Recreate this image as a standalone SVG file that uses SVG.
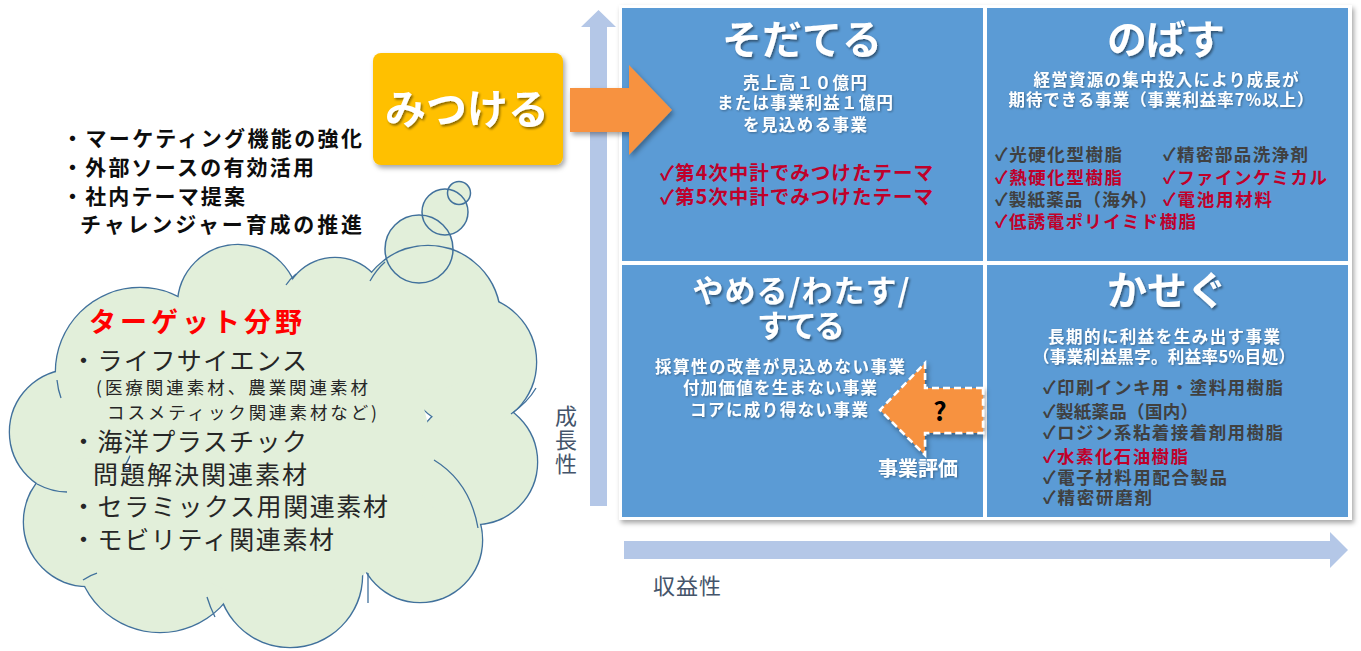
<svg xmlns="http://www.w3.org/2000/svg" width="1361" height="651" viewBox="0 0 1361 651">
<defs>
<filter id="sh" x="-10%" y="-10%" width="125%" height="125%"><feDropShadow dx="2" dy="3" stdDeviation="2.5" flood-color="#000" flood-opacity="0.35"/></filter>
<filter id="tsh" x="-10%" y="-20%" width="125%" height="150%"><feDropShadow dx="1.5" dy="2" stdDeviation="1.3" flood-color="#000" flood-opacity="0.45"/></filter>
<filter id="tsh2" x="-10%" y="-20%" width="125%" height="150%"><feDropShadow dx="1" dy="1" stdDeviation="0.8" flood-color="#000" flood-opacity="0.35"/></filter>
</defs>
<style>
.f{font-family:"Noto Sans CJK JP","Noto Sans",sans-serif}
.q{fill:#5B9BD5}
.ax{fill:#B4C7E7}
.title{font-size:40px;font-weight:bold;fill:#fff}
.sub{font-size:16.5px;font-weight:bold;fill:#fff}
.it{font-size:17.5px;font-weight:bold;fill:#404040}
.red{fill:#C0002A}
.lab{font-size:22px;fill:#44546A}
.lst{font-size:21px;font-weight:bold;fill:#0D0D0D}
.cl{font-size:25px;fill:#262626}
.cs{font-size:17.5px;fill:#262626}
.cs-stroke{fill:none;stroke:#41719C;stroke-width:2.6}
.cs-fill{fill:#E2EFDA}
.inner{fill:none;stroke:#41719C;stroke-width:1.3}
</style>

<!-- axes -->
<g id="axis-y">
<polygon class="ax" points="590,506 590,27 581,27 598.5,10 616,27 607,27 607,506"/>
<text class="f lab" text-anchor="middle" x="566"><tspan x="566" y="424">成</tspan><tspan x="566" y="448">長</tspan><tspan x="566" y="472">性</tspan></text>
</g>
<g id="axis-x">
<polygon class="ax" points="624,541 1330,541 1330,532 1348,550 1330,568 1330,559 624,559"/>
<text class="f lab" x="653" y="594" textLength="68">収益性</text>
</g>

<!-- matrix frame -->
<rect x="619" y="5" width="733" height="515" fill="#fff" filter="url(#sh)"/>

<g id="node-sodateru">
<rect class="q" x="622" y="8" width="361" height="253"/>
<text class="f title" x="802" y="54" text-anchor="middle" textLength="160" filter="url(#tsh)">そだてる</text>
<g class="f sub" text-anchor="middle" filter="url(#tsh2)">
<text x="805" y="89" textLength="124">売上高１０億円</text>
<text x="805" y="109" textLength="176">または事業利益１億円</text>
<text x="805" y="131" textLength="124">を見込める事業</text>
</g>
<text class="f it red" x="660" y="180" style="font-size:19.5px" textLength="273">✓第4次中計でみつけたテーマ</text>
<text class="f it red" x="660" y="204" style="font-size:19.5px" textLength="273">✓第5次中計でみつけたテーマ</text>
</g>

<g id="node-nobasu">
<rect class="q" x="987" y="8" width="361" height="253"/>
<text class="f title" x="1166" y="54" text-anchor="middle" textLength="118" filter="url(#tsh)">のばす</text>
<g class="f sub" text-anchor="middle" filter="url(#tsh2)">
<text x="1166" y="86" textLength="265">経営資源の集中投入により成長が</text>
<text x="1161" y="106" textLength="305">期待できる事業（事業利益率7%以上）</text>
</g>
<g class="f it">
<text x="995" y="161" textLength="127">✓光硬化型樹脂</text>
<text class="red" x="995" y="184" textLength="127">✓熱硬化型樹脂</text>
<text x="995" y="206" textLength="162">✓製紙薬品（海外）</text>
<text class="red" x="995" y="228" textLength="201">✓低誘電ポリイミド樹脂</text>
<text x="1163" y="161" textLength="145">✓精密部品洗浄剤</text>
<text class="red" x="1163" y="184" textLength="164">✓ファインケミカル</text>
<text class="red" x="1163" y="206" textLength="109">✓電池用材料</text>
</g>
</g>

<g id="node-yameru">
<rect class="q" x="622" y="265" width="361" height="252"/>
<g class="f title" text-anchor="middle" filter="url(#tsh)">
<text x="801" y="302" font-size="31" textLength="217">やめる/わたす/</text>
<text x="801" y="337" font-size="31" textLength="88">すてる</text>
</g>
<g class="f sub" text-anchor="middle" filter="url(#tsh2)">
<text x="780" y="373" textLength="250">採算性の改善が見込めない事業</text>
<text x="780" y="394" textLength="194">付加価値を生まない事業</text>
<text x="779" y="416" textLength="178">コアに成り得ない事業</text>
</g>
</g>

<g id="node-kasegu">
<rect class="q" x="987" y="265" width="361" height="252"/>
<text class="f title" x="1167" y="305" text-anchor="middle" textLength="120" filter="url(#tsh)">かせぐ</text>
<g class="f sub" text-anchor="middle" filter="url(#tsh2)">
<text x="1164" y="343" textLength="232">長期的に利益を生み出す事業</text>
<text x="1164" y="363" textLength="262">（事業利益黒字。利益率5%目処）</text>
</g>
<g class="f it">
<text x="1043" y="394" textLength="240">✓印刷インキ用・塗料用樹脂</text>
<text x="1043" y="418" textLength="155">✓製紙薬品（国内）</text>
<text x="1043" y="439" textLength="240">✓ロジン系粘着接着剤用樹脂</text>
<text class="red" x="1043" y="463" textLength="145">✓水素化石油樹脂</text>
<text x="1043" y="484" textLength="184">✓電子材料用配合製品</text>
<text x="1043" y="504" textLength="109">✓精密研磨剤</text>
</g>
</g>

<!-- cloud -->
<g id="node-target">
<g class="cs-fill">
<circle cx="419" cy="249" r="34"/><circle cx="445" cy="212" r="23"/><circle cx="459" cy="193" r="11.5"/>
</g>
<g class="cs-stroke">
<circle cx="72" cy="432" r="62"/><circle cx="88" cy="522" r="64"/><circle cx="160" cy="548" r="84"/>
<circle cx="290" cy="575" r="72"/><circle cx="420" cy="540" r="62"/><circle cx="475" cy="462" r="62"/>
<circle cx="470" cy="362" r="66"/><circle cx="428" cy="318" r="72"/><circle cx="335" cy="310" r="52"/>
<circle cx="238" cy="305" r="60"/><circle cx="140" cy="372" r="84"/>
</g>
<g class="cs-fill">
<circle cx="72" cy="432" r="62"/><circle cx="88" cy="522" r="64"/><circle cx="160" cy="548" r="84"/>
<circle cx="290" cy="575" r="72"/><circle cx="420" cy="540" r="62"/><circle cx="475" cy="462" r="62"/>
<circle cx="470" cy="362" r="66"/><circle cx="428" cy="318" r="72"/><circle cx="335" cy="310" r="52"/>
<circle cx="238" cy="305" r="60"/><circle cx="140" cy="372" r="84"/>
<circle cx="280" cy="450" r="150"/>
</g>
<g class="inner">
<path d="M434 460 Q470 482 478 528"/>
<path d="M207 597 Q210 607 215 617"/>
<path d="M83 580 Q90 575 97 573"/>
<path d="M37 484 Q52 492 67 492"/>
<path d="M368 573 Q368 590 368 603"/>
<path d="M536 388 Q528 402 511 414"/>
<path d="M57 380 Q58 390 61 398"/>
<path d="M370 281 A72 72 0 0 1 385 262"/>
<path d="M286 285 A52 52 0 0 1 296 274"/>
</g>
<g class="cs-stroke">
<circle cx="419" cy="249" r="34" stroke-width="1.5"/><circle cx="445" cy="212" r="23" stroke-width="1.5"/><circle cx="459" cy="193" r="11.5" stroke-width="1.5"/>
</g>
<text class="f" x="89" y="332" font-size="27" font-weight="bold" fill="#FF0000" textLength="213">ターゲット分野</text>
<text class="f cl" x="71" y="370" textLength="236">・ライフサイエンス</text>
<text class="f cs" x="96" y="394" textLength="272">(医療関連素材、農業関連素材</text>
<text class="f cs" x="107" y="419" textLength="270">コスメティック関連素材など)</text>
<text class="f cl" x="71" y="451" textLength="236">・海洋プラスチック</text>
<text class="f cl" x="93" y="484" textLength="214">問題解決関連素材</text>
<text class="f cl" x="71" y="516" textLength="317">・セラミックス用関連素材</text>
<text class="f cl" x="71" y="549" textLength="263">・モビリティ関連素材</text>
</g>

<g id="node-list">
<text class="f lst" x="62" y="146" textLength="300">・マーケティング機能の強化</text>
<text class="f lst" x="62" y="175" textLength="252">・外部ソースの有効活用</text>
<text class="f lst" x="62" y="204" textLength="183">・社内テーマ提案</text>
<text class="f lst" x="80" y="232" textLength="282">チャレンジャー育成の推進</text>
</g>

<g id="node-mitsukeru">
<rect x="373" y="53" width="190" height="112" rx="8" fill="#FFC000" filter="url(#sh)"/>
<text class="f" x="467" y="124" text-anchor="middle" font-size="41" font-weight="bold" fill="#fff" textLength="164" filter="url(#tsh)">みつける</text>
</g>

<g id="connectors">
<polygon points="570,88 629,88 629,65 672,110 629,155 629,132 570,132" fill="#F79240" filter="url(#sh)"/>
<polygon points="983,388 925,388 925,363 880,410 925,455 925,433 983,433" fill="#F79240" stroke="#fff" stroke-width="2.5" stroke-dasharray="7 4" filter="url(#sh)"/>
<text class="f" x="940" y="421" text-anchor="middle" font-size="26" font-weight="bold" fill="#000">?</text>
<text class="f sub" x="918" y="476" text-anchor="middle" style="font-size:20px" textLength="80" filter="url(#tsh2)">事業評価</text>
</g>
</svg>
